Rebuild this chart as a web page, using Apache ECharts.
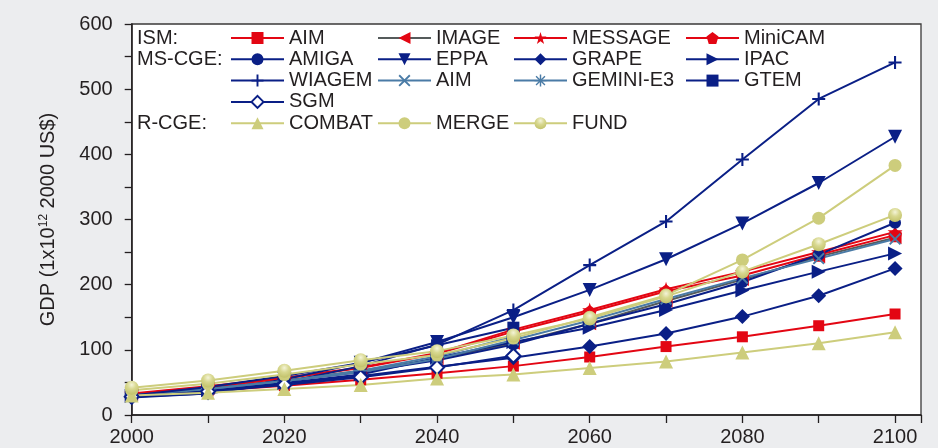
<!DOCTYPE html>
<html>
<head>
<meta charset="utf-8">
<script src="https://cdn.jsdelivr.net/npm/echarts@6/dist/echarts.min.js"></script>
<style>
  html, body { margin: 0; padding: 0; background: #ecedef; }
  #chart { width: 938px; height: 448px; }
</style>
</head>
<body>
<div id="chart"></div>
<script>
// Decade steps on the x axis
const years = [2000, 2010, 2020, 2030, 2040, 2050, 2060, 2070, 2080, 2090, 2100];

// ISM models
const ismAIM     = [31, 37, 45, 54, 64, 75, 89, 105, 120, 137, 155];
const ismIMAGE   = [32, 41, 53, 68, 86, 110, 140, 175, 208, 243, 272];
const ismMESSAGE = [33, 44, 57, 73, 95, 131, 161, 193, 220, 250, 281];
const ismMiniCAM = [32, 43, 56, 72, 94, 128, 158, 190, 214, 246, 276];

// MS-CGE models
const msAMIGA   = [30, 40, 52, 66, 84, 108, 140, 170, 204, 246, 295];
const msEPPA    = [28, 33, 55, 80, 112, 150, 192, 239, 294, 356, 427];
const msGRAPE   = [28, 37, 48, 60, 74, 88, 105, 125, 151, 183, 225];
const msIPAC    = [29, 38, 49, 62, 88, 112, 134, 161, 191, 220, 248];
const msWIAGEM  = [27, 33, 50, 75, 108, 161, 230, 297, 392, 485, 541];
const msAIM     = [30, 40, 52, 66, 86, 115, 145, 178, 210, 240, 270];
const msGEMINI  = [30, 40, 52, 68, 90, 120, null, null, null, null, null];
const msGTEM    = [30, 43, 60, 80, 107, 134, null, null, null, null, null];
const msSGM     = [28, 36, 46, 58, 73, 91, null, null, null, null, null];

// R-CGE models
const rCOMBAT = [30, 34, 40, 46, 56, 62, 72, 82, 96, 110, 127];
const rMERGE  = [38, 48, 62, 78, 92, 118, 150, 184, 238, 302, 383];
const rFUND   = [42, 53, 68, 84, 98, 122, 148, 182, 220, 262, 307];

const yTicks = [0, 100, 200, 300, 400, 500, 600];
const xTicks = [2000, 2020, 2040, 2060, 2080, 2100];

const RED = '#e30613', NAVY = '#0a1f86', STEEL = '#4a7ba6', GREY = '#555b5b', KHAKI = '#cdcd7c';
const INK = '#231f20';
const FONT = '"Liberation Sans", Arial, sans-serif';

const STAR = 'path://M50,0 L61,35 L98,35 L68,57 L79,91 L50,70 L21,91 L32,57 L2,35 L39,35 Z';
const PENTA = 'path://M50,0 L98,36 L80,95 L20,95 L2,36 Z';
const PLUS = 'path://M42,0 H58 V42 H100 V58 H58 V100 H42 V58 H0 V42 H42 Z';
const CROSS = 'path://M11,0 L50,39 L89,0 L100,11 L61,50 L100,89 L89,100 L50,61 L11,100 L0,89 L39,50 L0,11 Z';
const ASTER = 'path://M44,0 H56 V36 L83,9 L91,17 L64,44 H100 V56 H64 L91,83 L83,91 L56,64 V100 H44 V64 L17,91 L9,83 L36,56 H0 V44 H36 L9,17 L17,9 L44,36 Z';

function pairs(vals) { return years.map((y, i) => [y, vals[i]]); }

function mk(name, vals, color, symbol, size, extra) {
  const s = {
    name: name,
    type: 'line',
    data: pairs(vals),
    symbol: symbol,
    symbolSize: size,
    showAllSymbol: true,
    connectNulls: false,
    lineStyle: { color: color, width: 2 },
    itemStyle: { color: color },
    emphasis: { disabled: true },
    z: 2
  };
  return Object.assign(s, extra || {});
}

const fundFill = {
  type: 'radial', x: 0.5, y: 0.3, r: 0.7,
  colorStops: [{ offset: 0, color: '#f4f4d8' }, { offset: 0.45, color: '#d8d890' }, { offset: 1, color: '#c2c26a' }]
};

const series = [
  mk('AIM', ismAIM, RED, 'rect', 11),
  mk('IMAGE', ismIMAGE, GREY, 'triangle', 13, { symbolRotate: 90, itemStyle: { color: RED } }),
  mk('MESSAGE', ismMESSAGE, RED, STAR, 15),
  mk('MiniCAM', ismMiniCAM, RED, PENTA, 14),
  mk('AMIGA', msAMIGA, NAVY, 'circle', 12),
  mk('EPPA', msEPPA, NAVY, 'triangle', 14, { symbolRotate: 180 }),
  mk('GRAPE', msGRAPE, NAVY, 'diamond', 15),
  mk('IPAC', msIPAC, NAVY, 'triangle', 14, { symbolRotate: -90 }),
  mk('WIAGEM', msWIAGEM, NAVY, PLUS, 13),
  mk('AIM ', msAIM, STEEL, CROSS, 12),
  mk('GEMINI-E3', msGEMINI, STEEL, ASTER, 14),
  mk('GTEM', msGTEM, NAVY, 'rect', 12),
  mk('SGM', msSGM, NAVY, 'emptyDiamond', 14, { itemStyle: { color: NAVY, borderWidth: 2.5 } }),
  mk('COMBAT', rCOMBAT, KHAKI, 'triangle', 14),
  mk('MERGE', rMERGE, KHAKI, 'circle', 13),
  mk('FUND', rFUND, KHAKI, 'circle', 14, { itemStyle: { color: fundFill } })
];

const legendText = { fontSize: 20, color: INK, fontFamily: FONT, lineHeight: 20 };
function legendCol(left, top, names) {
  return {
    orient: 'vertical', left: left, top: top, padding: 0,
    itemWidth: 53, itemHeight: 15, itemGap: 1.3,
    selectedMode: false,
    textStyle: legendText,
    data: names,
    formatter: n => n.trim()
  };
}
const rowTop = 28;
const rowStep = 21.3;

const option = {
  backgroundColor: '#ecedef',
  animation: false,
  grid: {
    left: 131.7, right: 17, top: 24, bottom: 33,
    show: true, backgroundColor: '#ffffff', borderColor: '#3a3838', borderWidth: 1.3
  },
  xAxis: {
    type: 'value', min: 2000, max: 2103.4, interval: 10,
    axisLine: { show: true, lineStyle: { color: INK, width: 1.5 } },
    axisTick: { show: true, length: 8, lineStyle: { color: INK, width: 1.3 } },
    axisLabel: {
      margin: 12, fontSize: 20, color: INK, fontFamily: FONT,
      formatter: v => (xTicks.indexOf(v) >= 0 ? String(v) : '')
    },
    splitLine: { show: false }
  },
  yAxis: {
    type: 'value', min: 0, max: 600, interval: 50,
    name: 'GDP (1x10{sup|12} 2000 US$)',
    nameLocation: 'middle', nameGap: 72, nameRotate: 90,
    nameTextStyle: {
      fontSize: 20, color: INK, fontFamily: FONT,
      rich: { sup: { fontSize: 12, color: INK, fontFamily: FONT, padding: [0, 0, 10, 0] } }
    },
    axisLine: { show: true, lineStyle: { color: INK, width: 1.5 } },
    axisTick: { show: true, length: 7, lineStyle: { color: INK, width: 1.3 } },
    axisLabel: {
      margin: 19, fontSize: 20, color: INK, fontFamily: FONT,
      formatter: v => (yTicks.indexOf(v) >= 0 ? String(v) : '')
    },
    splitLine: { show: false }
  },
  legend: [
    legendCol(230, rowTop, ['AIM', 'AMIGA', 'WIAGEM', 'SGM', 'COMBAT']),
    legendCol(377, rowTop, ['IMAGE', 'EPPA', 'AIM ']),
    legendCol(513, rowTop, ['MESSAGE', 'GRAPE', 'GEMINI-E3']),
    legendCol(685, rowTop, ['MiniCAM', 'IPAC', 'GTEM']),
    legendCol(377, rowTop + rowStep * 4, ['MERGE']),
    legendCol(513, rowTop + rowStep * 4, ['FUND'])
  ],
  graphic: [
    { type: 'text', left: 137, top: rowTop, style: { text: 'ISM:', font: '20px ' + FONT, fill: INK } },
    { type: 'text', left: 137, top: rowTop + rowStep, style: { text: 'MS-CGE:', font: '20px ' + FONT, fill: INK } },
    { type: 'text', left: 137, top: rowTop + rowStep * 4, style: { text: 'R-CGE:', font: '20px ' + FONT, fill: INK } }
  ],
  series: series
};

const chart = echarts.init(document.getElementById('chart'), null, { renderer: 'canvas' });
chart.setOption(option);
</script>
</body>
</html>
